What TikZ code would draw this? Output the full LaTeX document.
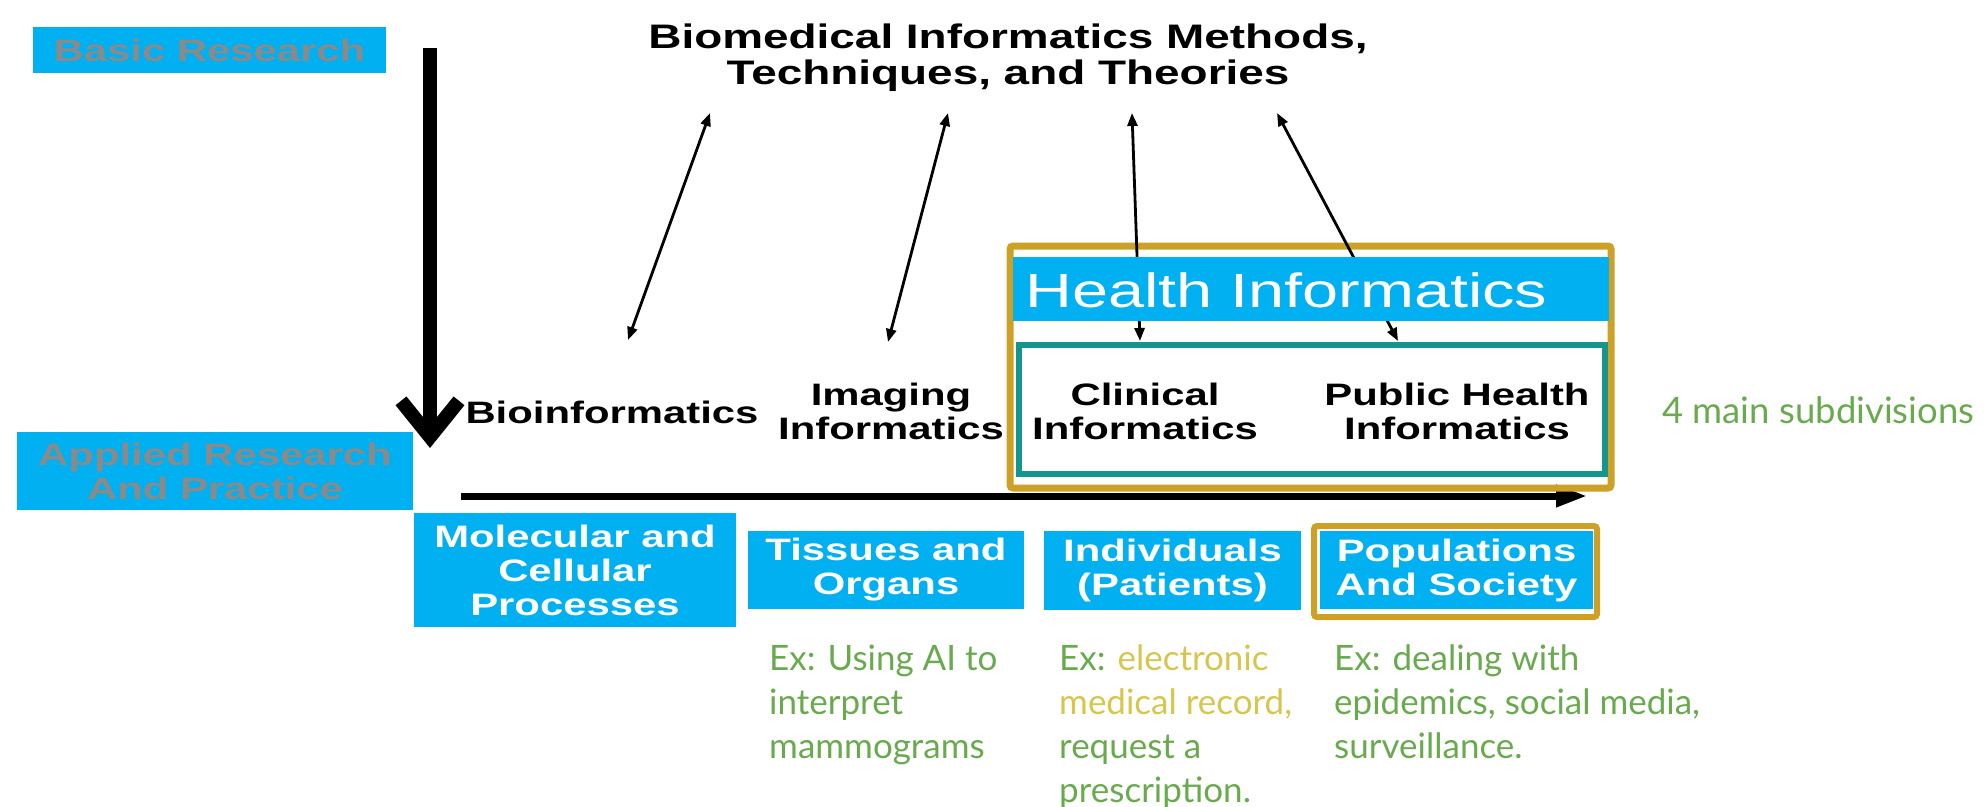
\documentclass[tikz,border=0pt]{standalone}
\usepackage{fontspec}
\usetikzlibrary{arrows.meta}
\newfontfamily\arialw[FakeStretch=1.35]{Liberation Sans}
\newfontfamily\latof{Lato}
\definecolor{cyanbox}{HTML}{00B0F0}
\definecolor{graytxt}{HTML}{8A8A8A}
\definecolor{goldline}{HTML}{CDA126}
\definecolor{tealline}{HTML}{14968E}
\definecolor{exgreen}{HTML}{6AAA4F}
\definecolor{exyellow}{HTML}{D6C64E}
\begin{document}
\begin{tikzpicture}[x=1pt,y=-1pt,
  bluebox/.style={fill=cyanbox, inner sep=0pt, text=white, align=center,
    font=\arialw\bfseries\fontsize{31}{34}\selectfont},
  graybox/.style={bluebox, text=graytxt},
  blacklabel/.style={inner sep=0pt, align=center, text=black,
    font=\arialw\bfseries\fontsize{31}{34}\selectfont},
  exnote/.style={inner sep=0pt, align=left, anchor=north west, text=exgreen,
    font=\latof\fontsize{35}{44}\selectfont},
  dblarrow/.style={line width=2.8pt,
    {Triangle[length=13pt,width=10pt]}-{Triangle[length=13pt,width=10pt]}},
  goldframe/.style={draw=goldline, line width=7pt, rounded corners=3pt, inner sep=0pt},
]
\useasboundingbox (0,0) rectangle (1988,806);

% side labels
\node[graybox, minimum width=353pt, minimum height=46pt] (basic) at (209.5,50) {Basic Research};
\node[graybox, minimum width=396pt, minimum height=78pt] (applied) at (215,471) {Applied Research\\And Practice};

% vertical arrow
\coordinate (vtop) at (430,48);
\coordinate (vtip) at (430,448);
\draw[line width=14pt, -{Straight Barb[length=36pt,width=58pt]}] (vtop) -- (vtip);

% title
\node[blacklabel, font=\arialw\bfseries\fontsize{34}{36}\selectfont] (title) at (1008,58)
  {Biomedical Informatics Methods,\\Techniques, and Theories};

% horizontal arrow
\coordinate (hstart) at (461,496);
\coordinate (htip) at (1587,496);
\draw[line width=7pt, -{Triangle[length=31pt,width=21pt]}] (hstart) -- (htip);

% health informatics frames
\node[goldframe, minimum width=601pt, minimum height=242pt] (hiframe) at (1310.5,367) {};
\node[draw=tealline, line width=6pt, inner sep=0pt, minimum width=586pt, minimum height=129pt] (subframe) at (1312,409.5) {};

% subdivision labels
\node[blacklabel] (bio) at (612,412) {Bioinformatics};
\node[blacklabel] (img) at (891,411) {Imaging\\Informatics};
\node[blacklabel] (clin) at (1145,411.5) {Clinical\\Informatics};
\node[blacklabel] (pub) at (1457,411.5) {Public Health\\Informatics};

% double-headed arrows
\coordinate (a1b) at (628,340); \coordinate (a1t) at (710,113);
\coordinate (a2b) at (888,342); \coordinate (a2t) at (948,113);
\coordinate (a3b) at (1140,341); \coordinate (a3t) at (1132,113);
\coordinate (a4b) at (1398,341); \coordinate (a4t) at (1277,113);
\draw[dblarrow] (a1b) -- (a1t);
\draw[dblarrow] (a2b) -- (a2t);
\draw[dblarrow] (a3b) -- (a3t);
\draw[dblarrow] (a4b) -- (a4t);

% health informatics bar
\node[fill=cyanbox, inner sep=0pt, minimum width=596pt, minimum height=64pt] (hibar) at (1311,289) {};
\node[inner sep=0pt, anchor=base west, text=white,
  font=\arialw\fontsize{48}{52}\selectfont] (hitext) at (1025,307) {Health Informatics};

% bottom boxes
\node[bluebox, minimum width=322pt, minimum height=114pt] (mol) at (575,570) {Molecular and\\Cellular\\Processes};
\node[bluebox, minimum width=276pt, minimum height=78pt] (tis) at (886,570) {Tissues and\\Organs};
\node[bluebox, minimum width=257pt, minimum height=79pt] (ind) at (1172.5,570.5) {Individuals\\(Patients)};
\node[bluebox, minimum width=273pt, minimum height=78pt] (pop) at (1456.5,570) {Populations\\And Society};
\node[goldframe, line width=6pt, minimum width=283pt, minimum height=91pt] (popframe) at (1455.5,571.5) {};

% notes
\node[exnote, anchor=base west, font=\latof\fontsize{36.5}{44}\selectfont] (four) at (1662,423) {4 main subdivisions};
\node[exnote] (ex1) at (769,645) {Ex: Using AI to\\interpret\\mammograms};
\node[exnote] (ex2) at (1059,645) {Ex: \textcolor{exyellow}{electronic}\\\textcolor{exyellow}{medical record,}\\request a\\prescription.};
\node[exnote] (ex3) at (1334,645) {Ex: dealing with\\epidemics, social media,\\surveillance.};
\end{tikzpicture}
\end{document}
